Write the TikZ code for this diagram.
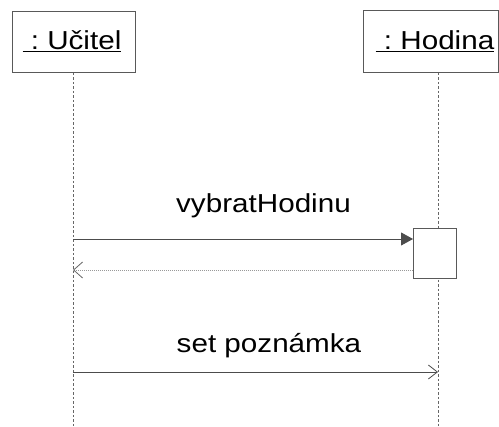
\documentclass[tikz,border=0pt]{standalone}
\usepackage{fontspec}
\setmainfont{Liberation Sans}
\usetikzlibrary{arrows.meta}
% widened text, as set by the drawing tool
\newcommand{\widetext}[1]{\scalebox{1.14}[1]{#1}}
\begin{document}
\begin{tikzpicture}[x=1pt,y=-1pt,
  lbl/.style={font=\fontsize{26}{30}\selectfont, inner sep=0pt},
  objbox/.style={draw=black!65, line width=0.8pt, fill=white, inner sep=0pt},
  lifeline/.style={draw=black!60, line width=0.7pt, dash pattern=on 2.5pt off 2pt},
  callmsg/.style={draw=black!70, line width=0.8pt, -{Triangle[length=12pt,width=13pt]}},
  asyncmsg/.style={draw=black!70, line width=0.8pt, -{Straight Barb[length=9pt,width=14pt,line width=0.8pt]}},
  replymsg/.style={draw=black!40, line width=0.8pt, dash pattern=on 1pt off 1pt, -{Straight Barb[length=9pt,width=16pt,line width=0.8pt,color=black!60]}}]
\useasboundingbox (0,0) rectangle (499,427);
\fill[white] (0,0) rectangle (499,427);

% objects
\node[objbox, minimum width=123pt, minimum height=61pt, anchor=north west] (ucitel) at (12,11) {};
\node[objbox, minimum width=135pt, minimum height=62pt, anchor=north west] (hodina) at (363,10) {};
\node[lbl, anchor=base] (tu) at (72,50) {\widetext{\underline{\ :\ Učitel}}};
\node[lbl, anchor=base] (th) at (435,50) {\widetext{\underline{\ :\ Hodina}}};

% lifelines
\coordinate (uend) at (73,427);
\coordinate (hend) at (438,427);
\draw[lifeline] (ucitel.south -| uend) -- (uend);
\draw[lifeline] (hodina.south -| hend) -- (hend);

% activation
\node[objbox, minimum width=43pt, minimum height=50pt, anchor=north west] (act) at (413,228) {};

% messages
\coordinate (m1s) at (73,239);
\coordinate (r1e) at (73,270);
\coordinate (m2s) at (73,372);
\coordinate (m2e) at (438,372);
\draw[callmsg] (m1s) -- (m1s -| act.west);
\draw[replymsg] (act.west |- r1e) -- (r1e);
\draw[asyncmsg] (m2s) -- (m2e);

\node[lbl, anchor=base] (l1) at (263.5,212.5) {\widetext{vybratHodinu}};
\node[lbl, anchor=base] (l2) at (269,353) {\widetext{set poznámka}};
\end{tikzpicture}
\end{document}
